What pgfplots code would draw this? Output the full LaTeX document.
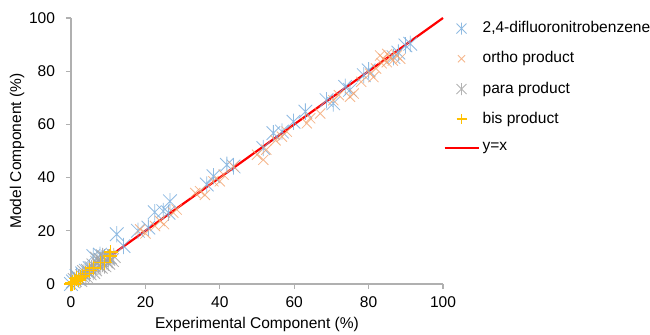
\documentclass[border=0pt]{standalone}
\usepackage{fontspec}
\setmainfont{Liberation Sans}
\usepackage{pgfplots}
\pgfplotsset{compat=1.18}
\usetikzlibrary{calc}
\definecolor{cblue}{HTML}{5B9BD5}
\definecolor{corange}{HTML}{ED7D31}
\definecolor{cgray}{HTML}{A5A5A5}
\definecolor{cyellow}{HTML}{FFC000}
\definecolor{caxis}{HTML}{B0B0B0}
\pgfdeclareplotmark{xstar}{%
  \pgfpathmoveto{\pgfqpoint{-\pgfplotmarksize}{-\pgfplotmarksize}}%
  \pgfpathlineto{\pgfqpoint{\pgfplotmarksize}{\pgfplotmarksize}}%
  \pgfpathmoveto{\pgfqpoint{-\pgfplotmarksize}{\pgfplotmarksize}}%
  \pgfpathlineto{\pgfqpoint{\pgfplotmarksize}{-\pgfplotmarksize}}%
  \pgfpathmoveto{\pgfqpoint{0pt}{-1.2\pgfplotmarksize}}%
  \pgfpathlineto{\pgfqpoint{0pt}{1.2\pgfplotmarksize}}%
  \pgfusepathqstroke}
\begin{document}
\begin{tikzpicture}
\begin{axis}[
  scale only axis,
  width=186bp, height=133bp,
  xmin=0, xmax=100, ymin=0, ymax=100,
  xtick={0,20,...,100}, ytick={0,20,...,100},
  axis x line*=bottom, axis y line*=left,
  axis line style={caxis, line width=0.6pt, -},
  tick style={caxis, line width=0.6pt},
  tick align=outside, major tick length=2.5bp,
  every tick label/.append style={font=\fontsize{7.8}{9.2}\selectfont},
  /pgf/number format/assume math mode=true,
  xticklabel style={yshift=-0.5bp},
  yticklabel style={xshift=-2bp},
  label style={font=\fontsize{7.8}{9.2}\selectfont},
  xlabel={Experimental Component (\%)},
  ylabel={Model Component (\%)},
  xlabel style={yshift=2bp},
  ylabel style={yshift=-4.5bp},
  clip=false,
  legend style={draw=none, fill=none, at={(1.0,1.0)}, anchor=north west,
    font=\fontsize{7.8}{9.2}\selectfont, row sep=5.0bp, inner sep=0pt,
    nodes={inner sep=1.5bp}},
  every legend image post/.append style={mark size=2.5bp},
  legend cell align=left,
]
\coordinate (O) at (axis cs:0,0);
\addplot[only marks, mark=xstar, mark size=3.4bp, cblue!80, mark options={line width=0.4pt, opacity=0.85}] coordinates {
(0,0)(0.5,1)(1.5,3)(2,2)(3,4)(4,5)(5,6)(6,10.5)(7.8,11)(8,9)(10,10)(12.3,18.7)(14.1,14.3)(18,20)(20.8,21.2)(22.5,27)(24.8,27.4)(26.6,31.1)(26.2,26.8)(36.5,37.4)(38.3,40.5)(41.9,44.8)(43.7,44.2)(51.7,51.1)(54.4,56.7)(56.7,57.3)(59.8,61)(63,64.8)(68.7,69.1)(70.5,67.9)(73.7,74.1)(75,73)(78.7,78.5)(80,80.3)(86.7,85.3)(88,87)(89.9,89.7)(91.2,90.3)
};
\addlegendentry{2,4-difluoronitrobenzene}
\addplot[only marks, mark=x, mark size=3.6bp, corange!70, mark options={line width=0.4pt, opacity=0.8}] coordinates {
(18.6,20.5)(20,19)(22.6,21.8)(23.9,23.7)(25,22.5)(27.5,26.8)(28.4,28)(33.4,34.2)(34.7,34.9)(36,33.5)(38.3,38.6)(40,38.6)(41,41.1)(43.7,44.2)(50,48.6)(51.7,46.7)(52.5,50.5)(56.7,55.4)(58,57.3)(55,54)(63.4,60.4)(64.3,62.3)(67,64.1)(70.5,69.1)(72,71)(75,70.4)(76,71.6)(78,76)(80.4,79.1)(81.3,77.8)(82,81)(83.1,85.9)(84,84.7)(84.9,83.4)(85.8,85.3)(86.5,84)(87.6,85.9)(88.5,84.7)(85,86.5)(83.5,83)
};
\addlegendentry{ortho product}
\addplot[only marks, mark=xstar, mark size=3.4bp, cgray, mark options={line width=0.4pt, opacity=0.85}] coordinates {
(1,1.5)(2,2.5)(3,3)(3.5,4.5)(4.5,5)(5,4)(5.5,6)(6,7)(6.5,5.5)(7,8)(7.5,7)(8,9)(8.5,7.5)(9,10)(9.5,8.5)(10,9.5)(10.5,10)(11,9)(11.5,10.5)(7,9.5)(8.5,10.5)(4,3)(6,4.5)(8,6.5)(10,8)(2.5,1.5)(9,7)
};
\addlegendentry{para product}
\addplot[only marks, mark=+, mark size=3.6bp, cyellow, mark options={cyellow, line width=0.6pt, opacity=1},
  legend image post style={cyellow, mark options={cyellow, line width=0.8pt, opacity=1}}] coordinates {
(0,0)(0.3,0.5)(0.5,0)(1,1)(1,0.3)(1.5,2)(2,1.5)(2.5,2.5)(3,3)(4,4)(5,5)(6,6)(8,8)(9,8)(10.5,10.5)(10.7,12)
};
\addlegendentry{bis product}
\addplot[red, line width=1.1bp, no marks] coordinates {(11,11)(100,100)};
\addlegendentry{y=x}
\end{axis}
\pgfresetboundingbox
\path ($(O)+(-35.5bp,-25.5bp)$) rectangle ++(325bp,167.5bp);
\end{tikzpicture}
\end{document}
